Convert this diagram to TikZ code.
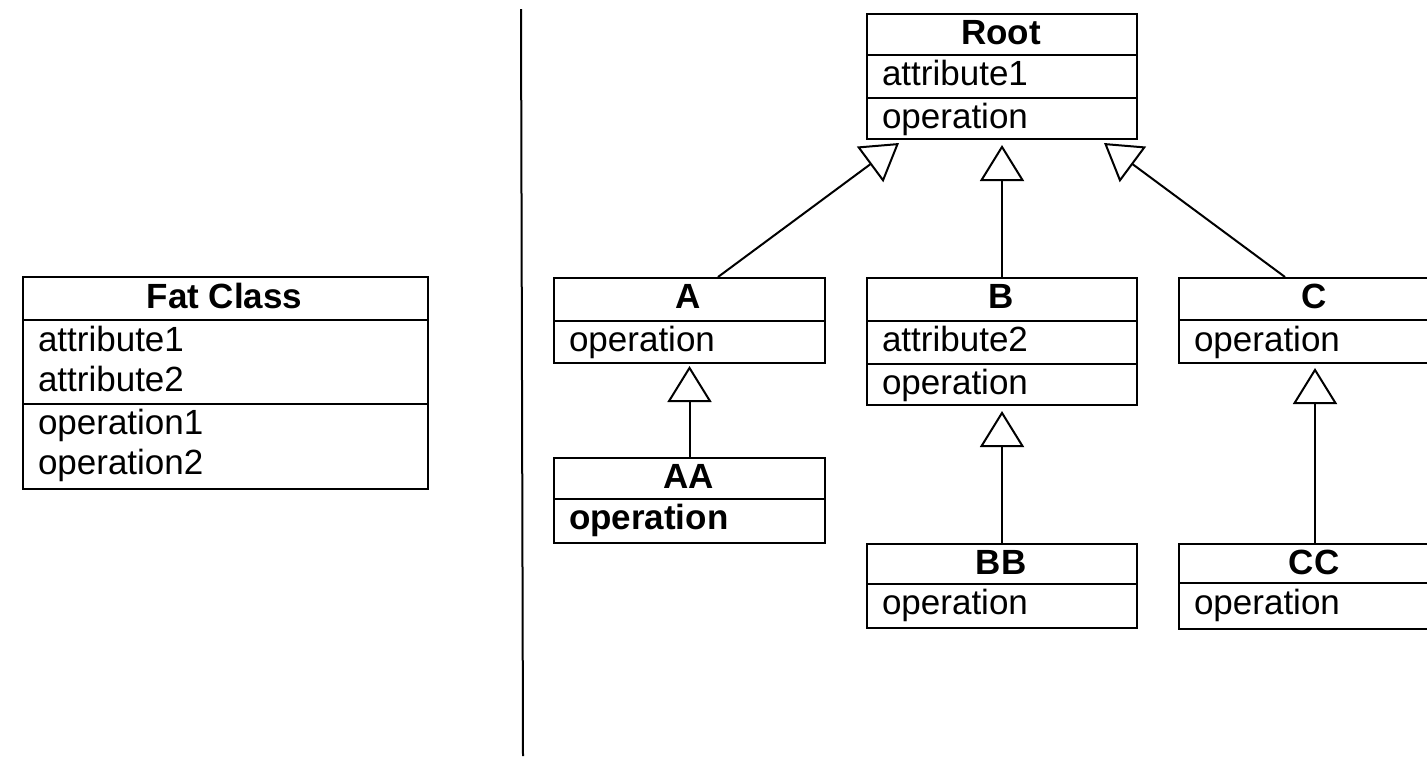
\documentclass[tikz,border=0pt]{standalone}
\usepackage{fontspec}
\setmainfont{Liberation Sans}
\usetikzlibrary{arrows.meta}
\begin{document}
\begin{tikzpicture}[x=1pt, y=-1pt, line width=2pt,
  cls/.style={draw, rectangle, inner sep=0pt, anchor=north west, line width=2pt},
  ttl/.style={font=\fontsize{35}{40}\selectfont\bfseries, anchor=base, inner sep=0pt},
  itm/.style={font=\fontsize{35}{40}\selectfont, anchor=base west, inner sep=0pt},
  itmb/.style={itm, font=\fontsize{35}{40}\selectfont\bfseries},
  gen/.style={-{Triangle[open, length=36pt, width=44pt]}, line width=2pt}]
\clip (0,0) rectangle (1427,756);

% divider between the fat class and the hierarchy
\draw (521,9) -- (523,756);

% Fat Class
\node[cls, minimum width=405pt, minimum height=212pt] (fat) at (22,276) {};
\draw (22,320) -- (427,320);
\draw (22,404) -- (427,404);
\node[ttl] (fat-t) at (224.5,308) {Fat Class};
\node[itm] (fat-a1) at (37,351) {attribute1};
\node[itm] (fat-a2) at (37,391) {attribute2};
\node[itm] (fat-o1) at (37,434) {operation1};
\node[itm] (fat-o2) at (37,474) {operation2};

% Root
\node[cls, minimum width=270pt, minimum height=125pt] (root) at (866,13) {};
\draw (866,55) -- (1136,55);
\draw (866,98) -- (1136,98);
\node[ttl] (root-t) at (1001,44) {Root};
\node[itm] (root-a) at (881,85) {attribute1};
\node[itm] (root-o) at (881,128) {operation};

% A
\node[cls, minimum width=271pt, minimum height=85pt] (A) at (553,277) {};
\draw (553,321) -- (824,321);
\node[ttl] (A-t) at (688.5,308) {A};
\node[itm] (A-o) at (568,351) {operation};

% AA
\node[cls, minimum width=271pt, minimum height=85pt] (AA) at (553,457) {};
\draw (553,499) -- (824,499);
\node[ttl] (AA-t) at (688.5,488) {AA};
\node[itmb] (AA-o) at (568,529) {operation};

% B
\node[cls, minimum width=270pt, minimum height=127pt] (B) at (866,277) {};
\draw (866,321) -- (1136,321);
\draw (866,364) -- (1136,364);
\node[ttl] (B-t) at (1001,308) {B};
\node[itm] (B-a) at (881,351) {attribute2};
\node[itm] (B-o) at (881,394) {operation};

% BB
\node[cls, minimum width=270pt, minimum height=84pt] (BB) at (866,543) {};
\draw (866,584) -- (1136,584);
\node[ttl] (BB-t) at (1001,574) {BB};
\node[itm] (BB-o) at (881,614) {operation};

% C
\node[cls, minimum width=272pt, minimum height=85pt] (C) at (1178,277) {};
\draw (1178,320) -- (1450,320);
\node[ttl] (C-t) at (1314,308) {C};
\node[itm] (C-o) at (1193,351) {operation};

% CC
\node[cls, minimum width=272pt, minimum height=85pt] (CC) at (1178,543) {};
\draw (1178,583) -- (1450,583);
\node[ttl] (CC-t) at (1314,574) {CC};
\node[itm] (CC-o) at (1193,614) {operation};

% generalisations
\draw[gen] ([xshift=165pt]A.north west) -- ([xshift=33pt, yshift=-3pt]root.south west);
\draw[gen] (B.north) -- ([yshift=-5pt]root.south);
\draw[gen] ([xshift=107pt]C.north west) -- ([xshift=-34pt, yshift=-3pt]root.south east);
\draw[gen] (AA.north) -- ([yshift=-2pt]A.south);
\draw[gen] (BB.north) -- ([yshift=-5pt]B.south);
\draw[gen] (CC.north) -- ([yshift=-4pt]C.south);
\end{tikzpicture}
\end{document}
